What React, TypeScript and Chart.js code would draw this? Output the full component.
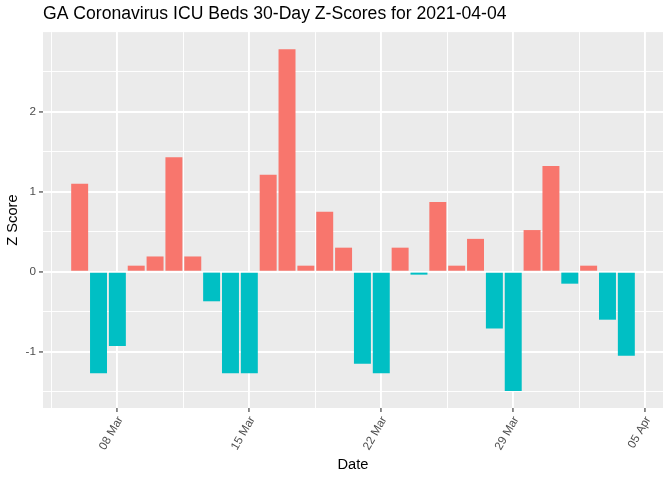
import React, { useEffect, useRef } from "react";
import { Chart, registerables } from "chart.js";

Chart.register(...registerables);

const dates: string[] = [
  "2021-03-06", "2021-03-07", "2021-03-08", "2021-03-09", "2021-03-10",
  "2021-03-11", "2021-03-12", "2021-03-13", "2021-03-14", "2021-03-15",
  "2021-03-16", "2021-03-17", "2021-03-18", "2021-03-19", "2021-03-20",
  "2021-03-21", "2021-03-22", "2021-03-23", "2021-03-24", "2021-03-25",
  "2021-03-26", "2021-03-27", "2021-03-28", "2021-03-29", "2021-03-30",
  "2021-03-31", "2021-04-01", "2021-04-02", "2021-04-03", "2021-04-04",
];

const zScores: number[] = [
  1.1, -1.27, -0.93, 0.075, 0.19,
  1.43, 0.19, -0.37, -1.27, -1.27,
  1.21, 2.78, 0.075, 0.75, 0.3,
  -1.15, -1.27, 0.3, -0.037, 0.87,
  0.075, 0.41, -0.71, -1.49, 0.52,
  1.32, -0.15, 0.075, -0.6, -1.05,
];

const xTickDates: string[] = ["2021-03-08", "2021-03-15", "2021-03-22", "2021-03-29", "2021-04-05"];
const xTickLabels: string[] = ["08 Mar", "15 Mar", "22 Mar", "29 Mar", "05 Apr"];
const yTickValues: number[] = [-1, 0, 1, 2];
const yTickLabels: string[] = ["-1", "0", "1", "2"];

const TITLE = "GA Coronavirus ICU Beds 30-Day Z-Scores for 2021-04-04";
const FONT = "'Liberation Sans', Arial, Helvetica, sans-serif";

const dayNum = (s: string): number => {
  const [y, m, d] = s.split("-").map(Number);
  return (Date.UTC(y, m - 1, d) - Date.UTC(2021, 1, 28)) / 86400000;
};

const panelBg = {
  id: "panelBg",
  beforeDraw(chart: any) {
    const { ctx, chartArea } = chart;
    ctx.save();
    ctx.fillStyle = "#EBEBEB";
    ctx.fillRect(chartArea.left, chartArea.top, chartArea.right - chartArea.left, chartArea.bottom - chartArea.top);
    ctx.restore();
  },
};

export default function App() {
  const ref = useRef<HTMLCanvasElement | null>(null);

  useEffect(() => {
    if (!ref.current) return;
    const xs = dates.map(dayNum);
    const data = xs.map((x, i) => ({ x, y: zScores[i] }));
    const xMajors = xTickDates.map(dayNum);
    const xMinors = xMajors.map((v) => v - 3.5);
    const xMin = Math.min(...xs) - 0.45;
    const xMax = Math.max(...xs) + 0.45;
    const xPad = (xMax - xMin) * 0.05;
    const yMinD = Math.min(...zScores);
    const yMaxD = Math.max(...zScores);
    const yPad = (yMaxD - yMinD) * 0.05;

    const isMajorX = (v: number) => xMajors.includes(v);
    const isMajorY = (v: number) => yTickValues.includes(v);

    const chart = new Chart(ref.current, {
      type: "bar",
      data: {
        datasets: [
          {
            data,
            backgroundColor: (c: any) => ((c.raw?.y ?? 0) >= 0 ? "#F8766D" : "#00BFC4"),
            borderWidth: 0,
            barPercentage: 0.9,
            categoryPercentage: 1.0,
          } as any,
        ],
      },
      options: {
        animation: false,
        responsive: false,
        devicePixelRatio: 1,
        layout: { padding: { left: 0, right: 9, top: 0, bottom: 0 } },
        plugins: {
          legend: { display: false },
          tooltip: { enabled: false },
          title: {
            display: true,
            text: TITLE,
            align: "start",
            fullSize: false,
            color: "#000000",
            font: { family: FONT, size: 17.6, weight: "normal" },
            padding: { top: 4, bottom: 7 },
          },
        },
        scales: {
          x: {
            type: "linear",
            offset: false,
            min: xMin - xPad,
            max: xMax + xPad,
            afterBuildTicks: (s: any) => {
              s.ticks = [...xMinors, ...xMajors].sort((a, b) => a - b).map((v) => ({ value: v }));
            },
            afterFit: (s: any) => {
              s.height = 72;
            },
            ticks: {
              autoSkip: false,
              minRotation: 60,
              maxRotation: 60,
              padding: 2,
              labelOffset: 3,
              color: "#4D4D4D",
              font: { family: FONT, size: 11.7 },
              callback: (v: any) => {
                const i = xMajors.indexOf(Number(v));
                return i >= 0 ? xTickLabels[i] : "";
              },
            },
            grid: {
              offset: false,
              color: "#FFFFFF",
              lineWidth: (c: any) => (isMajorX(c.tick?.value) ? 1.9 : 0.95),
              tickColor: (c: any) => (isMajorX(c.tick?.value) ? "#333333" : "rgba(0,0,0,0)"),
              tickWidth: 1.1,
              tickLength: 4,
            },
            border: { display: false },
            title: {
              display: true,
              text: "Date",
              color: "#000000",
              font: { family: FONT, size: 14.67 },
              padding: { top: 0, bottom: 6 },
            },
          },
          y: {
            type: "linear",
            min: yMinD - yPad,
            max: yMaxD + yPad,
            afterBuildTicks: (s: any) => {
              const t: number[] = [];
              for (let v = -1.5; v <= 2.5 + 1e-9; v += 0.5) t.push(Math.round(v * 10) / 10);
              s.ticks = t.map((v) => ({ value: v }));
            },
            afterFit: (s: any) => {
              s.width = 43;
            },
            ticks: {
              padding: 3,
              color: "#4D4D4D",
              font: { family: FONT, size: 11.7 },
              callback: (v: any) => {
                const i = yTickValues.indexOf(Number(v));
                return i >= 0 ? yTickLabels[i] : "";
              },
            },
            grid: {
              color: "#FFFFFF",
              lineWidth: (c: any) => (isMajorY(c.tick?.value) ? 1.9 : 0.95),
              tickColor: (c: any) => (isMajorY(c.tick?.value) ? "#333333" : "rgba(0,0,0,0)"),
              tickWidth: 1.1,
              tickLength: 4,
            },
            border: { display: false },
            title: {
              display: true,
              text: "Z Score",
              color: "#000000",
              font: { family: FONT, size: 14.67 },
              padding: { top: 4, bottom: 0 },
            },
          },
        },
      } as any,
      plugins: [panelBg],
    });
    return () => chart.destroy();
  }, []);

  return (
    <div style={{ position: "fixed", left: 0, top: 0, width: 672, height: 480, background: "#FFFFFF" }}>
      <canvas ref={ref} width={672} height={480} style={{ display: "block", width: 672, height: 480 }} />
    </div>
  );
}
